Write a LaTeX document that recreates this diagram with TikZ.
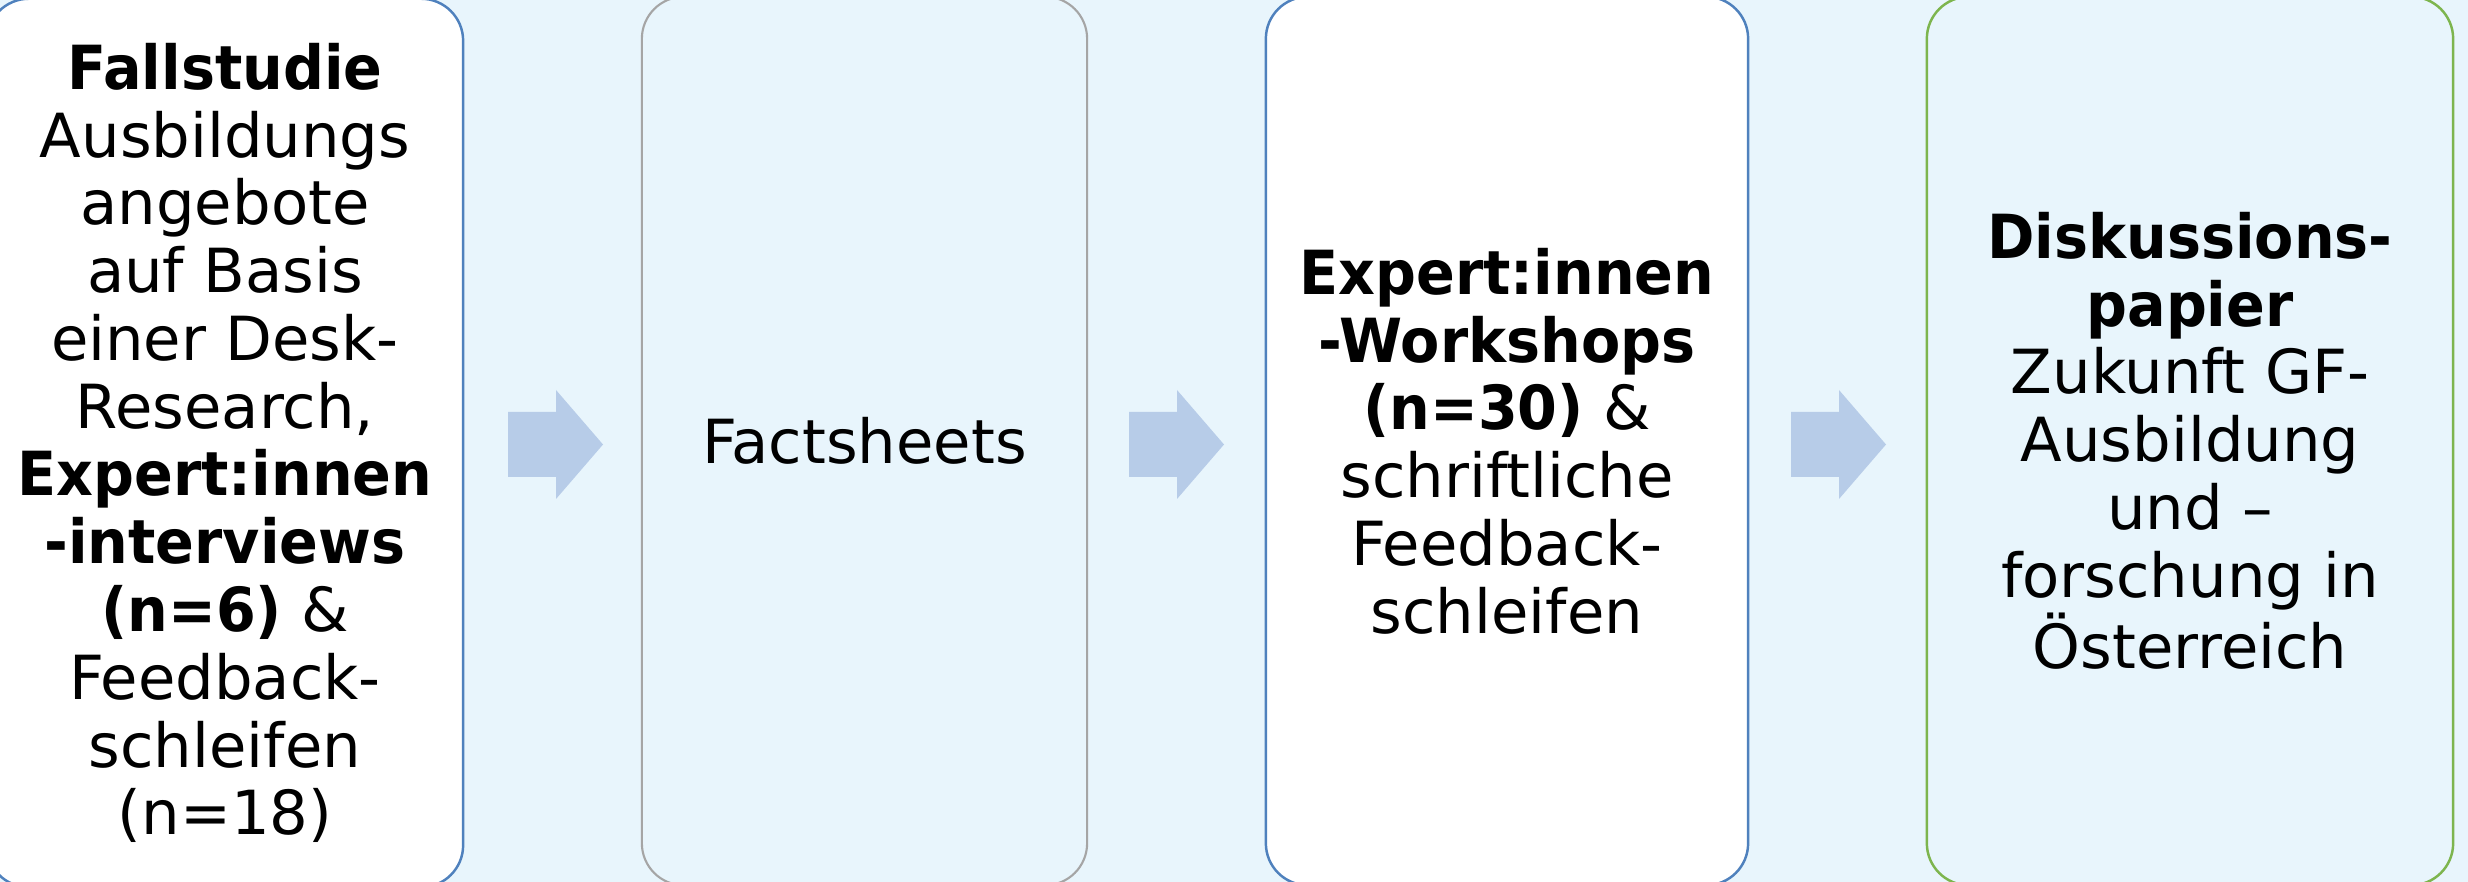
\documentclass[tikz,border=0pt]{standalone}
\usepackage{fontspec}
\setmainfont{DejaVu Sans}[BoldFeatures={FakeStretch=0.94}]
\usetikzlibrary{calc}
\definecolor{bg}{HTML}{E8F5FC}
\definecolor{blueline}{HTML}{4F81BD}
\definecolor{grayline}{HTML}{A5A5A5}
\definecolor{greenline}{HTML}{7DB54E}
\definecolor{arrowfill}{HTML}{B7CCE8}
\begin{document}
\begin{tikzpicture}[x=0.01cm,y=-0.01cm,
  box/.style={rectangle, rounded corners=0.42cm, minimum height=8.88cm,
    align=center, inner sep=0pt, line width=0.7pt,
    font=\fontsize{17.3pt}{19.27pt}\selectfont},
  bluebox/.style={box, draw=blueline, fill=white},
  graybox/.style={box, draw=grayline, fill=bg, line width=0.6pt},
  greenbox/.style={box, draw=greenline, fill=bg},
  blockarrow/.style={fill=arrowfill}]
\fill[bg] (0,0) rectangle (2468,882);
\useasboundingbox (0,0) rectangle (2468,882);
\clip (0,0) rectangle (2468,882);

\node[bluebox, minimum width=4.76cm] (b1) at (225,443)
  {\textbf{Fallstudie}\\Ausbildungs\\angebote\\auf Basis\\einer Desk-\\Research,\\
   \textbf{Expert:innen}\\\textbf{-interviews}\\\textbf{(n=6)} \&\\Feedback-\\schleifen\\(n=18)};
\node[graybox, minimum width=4.45cm] (b2) at (864.5,441) {Factsheets};
\node[bluebox, minimum width=4.82cm] (b3) at (1507,441)
  {\textbf{Expert:innen}\\\textbf{-Workshops}\\\textbf{(n=30)} \&\\schriftliche\\Feedback-\\schleifen};
\node[greenbox, minimum width=5.26cm] (b4) at (2190,441)
  {\textbf{Diskussions-}\\\textbf{papier}\\Zukunft GF-\\Ausbildung\\und –\\forschung in\\Österreich};

\coordinate (a1) at (555.5,444.5);
\coordinate (a2) at (1176.5,444.5);
\coordinate (a3) at (1838.5,444.5);
\foreach \a in {a1,a2,a3}{
  \fill[blockarrow] ($(\a)+(-47.5,-32.5)$) -- ++(48,0) -- ++(0,-22) -- ++(47,54.5)
    -- ++(-47,54.5) -- ++(0,-22) -- ++(-48,0) -- cycle;
}
\end{tikzpicture}
\end{document}
